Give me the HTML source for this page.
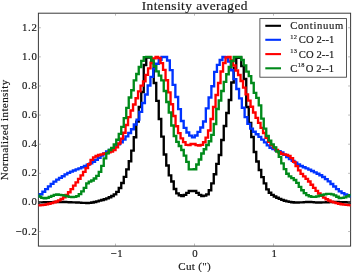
<!DOCTYPE html>
<html><head><meta charset="utf-8"><title>Intensity averaged</title>
<style>
html,body{margin:0;padding:0;background:#fff;}
body{width:352px;height:272px;overflow:hidden;position:relative;}
svg{position:absolute;left:0;top:0;}
text{font-family:"Liberation Serif",serif;fill:#111;stroke:#111;stroke-width:0.17px;}
</style></head><body>
<svg width="352" height="272" viewBox="0 0 352 272">
<defs><clipPath id="c"><rect x="38.4" y="13.2" width="312.20" height="232.90"/></clipPath></defs>
<g stroke="#3a3a3a" stroke-width="1" fill="none">
<rect x="38.4" y="13.2" width="312.20" height="232.90"/>
</g>
<g clip-path="url(#c)" fill="none" stroke-width="2.35" stroke-linejoin="miter">
<path d="M33.75 202.5H36.25V202.5H38.75V202.4H41.25V202.3H43.75V202.2H46.25V202.2H48.75V202.1H51.25V202.1H53.75V202.0H56.25V202.0H58.75V202.0H61.25V202.0H63.75V202.0H66.25V202.1H68.75V202.2H71.25V202.3H73.75V202.4H76.25V202.5H78.75V202.6H81.25V202.8H83.75V202.9H86.25V203.0H88.75V202.9H91.25V202.5H93.75V202.0H96.25V201.3H98.75V200.6H101.25V200.0H103.75V199.2H106.25V198.3H108.75V197.2H111.25V196.0H113.75V194.3H116.25V191.9H118.75V188.0H121.25V183.0H123.75V176.9H126.25V169.4H128.75V161.2H131.25V150.6H133.75V137.2H136.25V121.6H138.75V107.0H141.25V92.0H143.75V65.0H146.25V57.5H148.75V57.5H151.25V63.0H153.75V83.0H156.25V100.8H158.75V119.0H161.25V136.6H163.75V154.5H166.25V165.5H168.75V175.3H171.25V181.5H173.75V189.0H176.25V193.3H178.75V195.2H181.25V196.0H183.75V194.9H186.25V192.9H188.75V191.0H191.25V191.0H193.75V191.0H196.25V192.9H198.75V194.9H201.25V196.0H203.75V195.6H206.25V194.3H208.75V190.2H211.25V183.3H213.75V174.2H216.25V163.9H218.75V155.0H221.25V140.0H223.75V126.0H226.25V113.0H228.75V100.0H231.25V82.5H233.75V68.0H236.25V57.8H238.75V57.4H241.25V66.0H243.75V79.0H246.25V107.0H248.75V122.8H251.25V137.0H253.75V152.0H256.25V161.5H258.75V170.0H261.25V177.1H263.75V183.4H266.25V189.4H268.75V192.7H271.25V194.9H273.75V196.5H276.25V197.7H278.75V198.8H281.25V199.8H283.75V200.7H286.25V201.4H288.75V201.8H291.25V202.2H293.75V202.5H296.25V202.5H298.75V202.4H301.25V202.3H303.75V202.1H306.25V202.0H308.75V202.0H311.25V202.1H313.75V202.3H316.25V202.5H318.75V202.5H321.25V202.4H323.75V202.3H326.25V202.2H328.75V202.1H331.25V202.0H333.75V202.0H336.25V202.0H338.75V202.1H341.25V202.1H343.75V202.2H346.25V202.3H348.75V202.5H351.25V202.5H353.75V202.5H356.25V202.5H358.75" stroke="#000000"/>
<path d="M34.10 196.3H36.87V196.3H39.64V194.2H42.41V191.7H45.18V189.1H47.95V186.4H50.72V183.9H53.49V181.6H56.26V179.6H59.03V177.9H61.80V176.2H64.57V174.4H67.34V172.8H70.11V171.6H72.88V170.5H75.65V169.4H78.42V168.3H81.19V167.2H83.96V166.0H86.73V164.7H89.50V163.3H92.27V161.7H95.04V159.9H97.81V157.9H100.58V155.5H103.35V153.3H106.12V151.5H108.89V149.8H111.66V148.1H114.43V146.3H117.20V144.4H119.97V142.2H122.74V139.5H125.51V136.3H128.28V133.0H131.05V129.2H133.82V124.5H136.59V119.6H139.36V111.9H142.13V103.0H144.90V94.5H147.67V85.5H150.44V76.9H153.21V68.6H155.98V63.7H158.75V59.9H161.52V57.0H164.29V57.0H167.06V60.5H169.83V70.1H172.60V84.9H175.37V97.0H178.14V109.1H180.91V121.0H183.68V127.9H186.45V132.5H189.22V135.6H191.99V137.4H194.76V135.5H197.53V131.8H200.30V127.5H203.07V121.5H205.84V108.4H208.61V97.5H211.38V86.2H214.15V71.9H216.92V64.9H219.69V60.0H222.46V57.0H225.23V57.2H228.00V61.5H230.77V70.2H233.54V79.1H236.31V89.0H239.08V98.4H241.85V107.7H244.62V117.1H247.39V123.8H250.16V128.6H252.93V131.7H255.70V134.2H258.47V136.9H261.24V139.6H264.01V142.4H266.78V145.4H269.55V147.7H272.32V149.1H275.09V150.2H277.86V151.1H280.63V152.5H283.40V154.7H286.17V157.1H288.94V159.1H291.71V160.9H294.48V162.6H297.25V164.4H300.02V166.0H302.79V167.2H305.56V168.4H308.33V169.6H311.10V171.0H313.87V172.4H316.64V173.7H319.41V175.2H322.18V177.0H324.95V179.1H327.72V181.4H330.49V184.0H333.26V186.5H336.03V189.1H338.80V191.3H341.57V193.1H344.34V194.5H347.11V195.7H349.88V196.3H352.65V196.3H355.42V196.3H358.19" stroke="#0033ff"/>
<path d="M33.05 205.3H35.55V205.3H38.05V205.3H40.55V205.1H43.05V204.8H45.55V204.3H48.05V203.7H50.55V203.1H53.05V202.4H55.55V201.5H58.05V200.4H60.55V199.0H63.05V197.4H65.55V195.0H68.05V192.2H70.55V189.1H73.05V185.6H75.55V182.3H78.05V178.9H80.55V175.4H83.05V171.8H85.55V168.1H88.05V164.1H90.55V159.8H93.05V157.3H95.55V156.0H98.05V155.0H100.55V154.3H103.05V153.7H105.55V153.1H108.05V152.4H110.55V151.5H113.05V150.0H115.55V147.3H118.05V143.5H120.55V138.6H123.05V132.7H125.55V125.0H128.05V117.1H130.55V110.5H133.05V104.5H135.55V98.2H138.05V91.3H140.55V85.6H143.05V81.4H145.55V74.9H148.05V68.3H150.55V62.7H153.05V58.4H155.55V57.0H158.05V58.0H160.55V63.1H163.05V69.8H165.55V80.2H168.05V92.3H170.55V104.2H173.05V116.0H175.55V126.2H178.05V133.1H180.55V138.4H183.05V142.1H185.55V144.9H188.05V145.1H190.55V144.0H193.05V144.0H195.55V145.1H198.05V145.5H200.55V144.8H203.05V142.2H205.55V137.6H208.05V130.5H210.55V119.0H213.05V107.0H215.55V95.0H218.05V83.0H220.55V71.5H223.05V63.0H225.55V57.4H228.05V57.0H230.55V60.5H233.05V65.5H235.55V70.5H238.05V75.0H240.55V81.0H243.05V87.6H245.55V94.3H248.05V100.6H250.55V106.7H253.05V112.5H255.55V117.9H258.05V122.9H260.55V127.9H263.05V133.0H265.55V137.8H268.05V141.8H270.55V145.1H273.05V147.6H275.55V150.0H278.05V152.2H280.55V153.7H283.05V154.4H285.55V154.9H288.05V155.8H290.55V158.1H293.05V161.8H295.55V166.1H298.05V170.4H300.55V173.9H303.05V176.4H305.55V178.8H308.05V181.5H310.55V184.7H313.05V187.9H315.55V190.8H318.05V193.5H320.55V195.7H323.05V197.6H325.55V199.2H328.05V200.5H330.55V201.6H333.05V202.4H335.55V203.1H338.05V203.7H340.55V204.2H343.05V204.6H345.55V204.9H348.05V205.1H350.55V205.2H353.05V205.2H355.55V205.2H358.05" stroke="#ff0000"/>
<path d="M33.75 195.6H36.25V195.6H38.75V196.6H41.25V197.8H43.75V198.3H46.25V197.9H48.75V196.9H51.25V195.9H53.75V194.8H56.25V194.5H58.75V194.8H61.25V195.1H63.75V195.6H66.25V196.3H68.75V196.9H71.25V197.1H73.75V196.8H76.25V196.1H78.75V194.1H81.25V191.3H83.75V187.8H86.25V183.3H88.75V181.6H91.25V180.5H93.75V178.5H96.25V175.8H98.75V171.9H101.25V165.8H103.75V158.3H106.25V153.4H108.75V150.0H111.25V147.9H113.75V144.5H116.25V139.7H118.75V133.8H121.25V126.9H123.75V118.1H126.25V107.9H128.75V97.5H131.25V90.2H133.75V80.4H136.25V74.0H138.75V67.0H141.25V60.9H143.75V57.1H146.25V56.8H148.75V57.0H151.25V60.5H153.75V66.2H156.25V71.3H158.75V75.6H161.25V80.3H163.75V91.0H166.25V102.0H168.75V112.5H171.25V125.5H173.75V136.0H176.25V141.8H178.75V146.0H181.25V150.0H183.75V155.6H186.25V161.9H188.75V169.4H191.25V169.4H193.75V169.2H196.25V164.5H198.75V159.5H201.25V153.5H203.75V149.2H206.25V145.0H208.75V141.2H211.25V134.9H213.75V124.0H216.25V109.0H218.75V100.5H221.25V91.0H223.75V81.8H226.25V74.2H228.75V67.0H231.25V61.0H233.75V57.0H236.25V56.8H238.75V57.0H241.25V60.0H243.75V65.3H246.25V71.6H248.75V76.1H251.25V83.0H253.75V92.8H256.25V97.8H258.75V105.4H261.25V118.6H263.75V128.6H266.25V136.0H268.75V140.6H271.25V144.3H273.75V147.4H276.25V151.5H278.75V156.9H281.25V163.4H283.75V169.1H286.25V173.7H288.75V176.3H291.25V178.1H293.75V180.0H296.25V182.8H298.75V186.8H301.25V190.2H303.75V193.1H306.25V195.1H308.75V196.2H311.25V196.9H313.75V196.9H316.25V196.4H318.75V195.6H321.25V195.0H323.75V194.4H326.25V193.9H328.75V193.8H331.25V194.4H333.75V195.3H336.25V196.7H338.75V198.0H341.25V197.8H343.75V197.3H346.25V196.4H348.75V195.1H351.25V194.8H353.75V194.8H356.25V194.8H358.75" stroke="#008a1a"/>
</g>
<path d="M115.50 246.1v-2.5M115.50 13.2v2.5M194.50 246.1v-2.5M194.50 13.2v2.5M273.50 246.1v-2.5M273.50 13.2v2.5M38.4 27.76h2.5M350.6 27.76h-2.5M38.4 56.87h2.5M350.6 56.87h-2.5M38.4 85.98h2.5M350.6 85.98h-2.5M38.4 115.09h2.5M350.6 115.09h-2.5M38.4 144.21h2.5M350.6 144.21h-2.5M38.4 173.32h2.5M350.6 173.32h-2.5M38.4 202.43h2.5M350.6 202.43h-2.5M38.4 231.54h2.5M350.6 231.54h-2.5" stroke="#777" stroke-width="0.5" fill="none"/>
<rect x="259.9" y="18.6" width="86.6" height="58.6" fill="#fff" stroke="#3a3a3a" stroke-width="0.85"/>
<g stroke-width="2.1" fill="none">
<path d="M265.3 25.8h15.7" stroke="#000"/>
<path d="M265.3 39.8h15.7" stroke="#0033ff"/>
<path d="M265.3 54.1h15.7" stroke="#ff0000"/>
<path d="M265.3 68.3h15.7" stroke="#008a1a"/>
</g>
<g opacity="0.97">
<text x="194.8" y="9.8" text-anchor="middle" font-size="13.4" letter-spacing="0.43">Intensity averaged</text>
<text x="37.4" y="30.76" text-anchor="end" font-size="10.8" letter-spacing="0.6">1.2</text>
<text x="37.4" y="59.87" text-anchor="end" font-size="10.8" letter-spacing="0.6">1.0</text>
<text x="37.4" y="88.98" text-anchor="end" font-size="10.8" letter-spacing="0.6">0.8</text>
<text x="37.4" y="118.09" text-anchor="end" font-size="10.8" letter-spacing="0.6">0.6</text>
<text x="37.4" y="147.21" text-anchor="end" font-size="10.8" letter-spacing="0.6">0.4</text>
<text x="37.4" y="176.32" text-anchor="end" font-size="10.8" letter-spacing="0.6">0.2</text>
<text x="37.4" y="205.43" text-anchor="end" font-size="10.8" letter-spacing="0.6">0.0</text>
<text x="37.4" y="234.54" text-anchor="end" font-size="10.8" letter-spacing="0.6">−0.2</text>
<text x="116.80" y="257.0" text-anchor="middle" font-size="10.8" letter-spacing="0.6">−1</text>
<text x="195.20" y="257.0" text-anchor="middle" font-size="10.8" letter-spacing="0.6">0</text>
<text x="274.40" y="257.0" text-anchor="middle" font-size="10.8" letter-spacing="0.6">1</text>
<text x="194.7" y="270.1" text-anchor="middle" font-size="11.1" letter-spacing="0.3">Cut (")</text>
<text transform="translate(8.4 129.8) rotate(-90)" text-anchor="middle" font-size="11.1" letter-spacing="0.37">Normalized intensity</text>
<text x="290.2" y="29.0" font-size="10.6" letter-spacing="0.66">Continuum</text>
<text x="290.2" y="43.3" font-size="10.6" letter-spacing="0.1"><tspan font-size="6.4" dy="-4.6" letter-spacing="0.3">12</tspan><tspan dy="4.6" dx="1.6">CO 2--1</tspan></text>
<text x="290.2" y="57.5" font-size="10.6" letter-spacing="0.1"><tspan font-size="6.4" dy="-4.6" letter-spacing="0.3">13</tspan><tspan dy="4.6" dx="1.6">CO 2--1</tspan></text>
<text x="290.2" y="71.6" font-size="10.6" letter-spacing="0.1">C<tspan font-size="6.4" dy="-4.6" dx="0.5" letter-spacing="0.3">18</tspan><tspan dy="4.6" dx="0.8">O 2--1</tspan></text>
</g>
</svg>
</body></html>
